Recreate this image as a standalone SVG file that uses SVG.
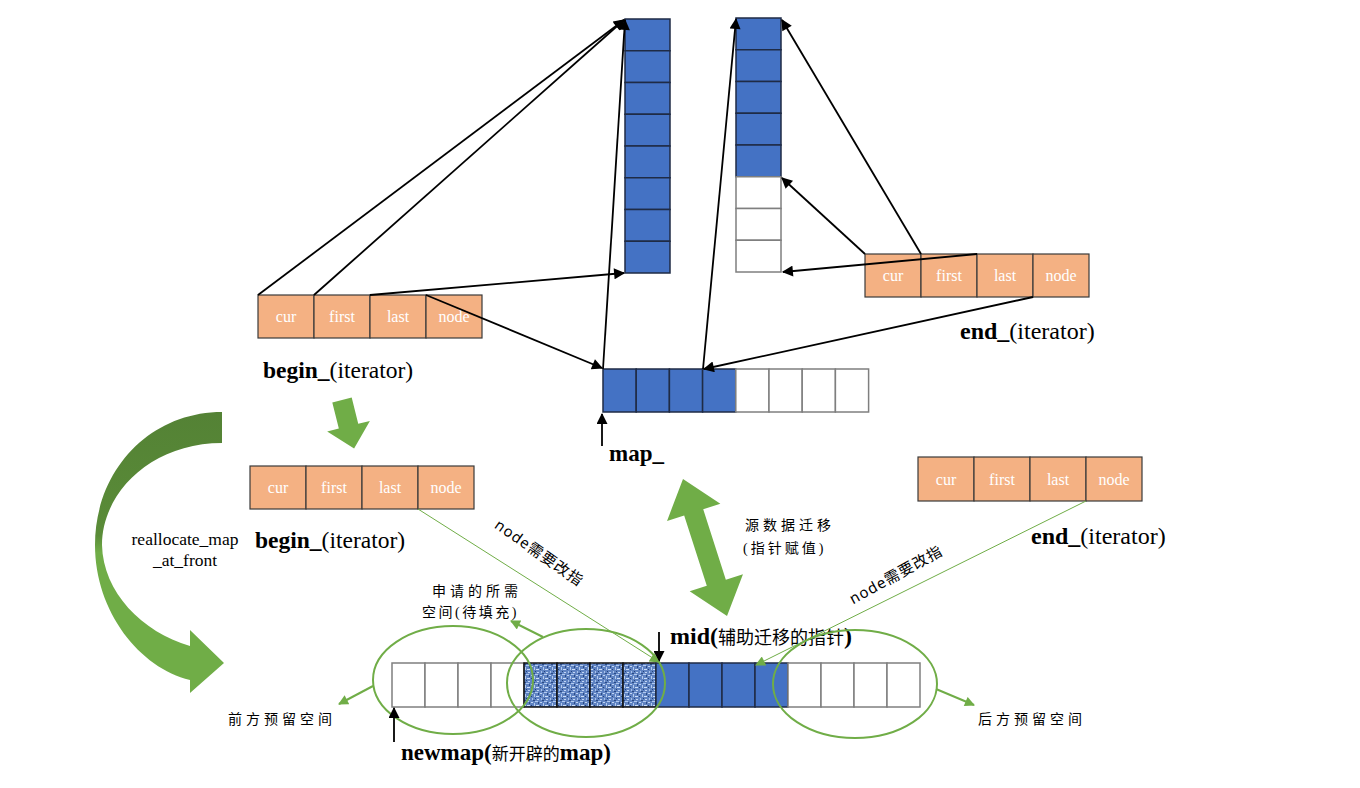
<svg xmlns="http://www.w3.org/2000/svg" width="1360" height="788" viewBox="0 0 1360 788">
<style>
.bg{fill:#ffffff}
.ora{fill:#F4B183;stroke:#3a3a3a;stroke-width:1.2}
.blu{fill:#4472C4;stroke:#1f2b45;stroke-width:1.5}
.wht{fill:#ffffff;stroke:#7f7f7f;stroke-width:1.5}
.tex{fill:url(#noise);stroke:#111;stroke-width:1.5}
.ct{font-family:"Liberation Serif",serif;font-size:16px;fill:#ffffff;text-anchor:middle}
.lb{font-family:"Liberation Serif",serif;font-size:24px;fill:#000}
.b{font-weight:bold}
.cn{font-family:"Liberation Serif","Noto Sans CJK SC",serif;font-size:14px;fill:#000;letter-spacing:4px}
.cn2{font-family:"Noto Sans CJK SC",sans-serif;font-size:18px;font-weight:normal}
.blk{stroke:#000;stroke-width:1.8;fill:none;marker-end:url(#ah)}
.gl{stroke:#70AD47;stroke-width:1;fill:none;marker-end:url(#gh)}
.gl2{stroke:#70AD47;stroke-width:2;fill:none;marker-end:url(#gh2)}
.ell{fill:none;stroke:#70AD47;stroke-width:2}
.garrow{fill:#70AD47}
.rot{font-family:"Noto Sans","Noto Sans CJK SC",sans-serif;font-size:15px;fill:#000;letter-spacing:1px;text-anchor:middle}
</style>
<defs>
<marker id="ah" viewBox="0 0 10 10" refX="9" refY="5" markerWidth="13" markerHeight="11" orient="auto" markerUnits="userSpaceOnUse"><path d="M0,0 L10,5 L0,10 z" fill="#000"/></marker>
<marker id="gh" viewBox="0 0 10 10" refX="9" refY="5" markerWidth="12" markerHeight="10" orient="auto" markerUnits="userSpaceOnUse"><path d="M0,0 L10,5 L0,10 z" fill="#70AD47"/></marker>
<marker id="gh2" viewBox="0 0 10 10" refX="9" refY="5" markerWidth="11" markerHeight="10" orient="auto" markerUnits="userSpaceOnUse"><path d="M0,0 L10,5 L0,10 z" fill="#70AD47"/></marker>
<pattern id="noise" width="9" height="9" patternUnits="userSpaceOnUse">
<rect width="9" height="9" fill="#5f83c2"/>
<rect x="0" y="0" width="2" height="1" fill="#c2d6f4"/>
<rect x="3" y="1" width="1" height="3" fill="#b3cbef"/>
<rect x="5" y="3" width="3" height="1" fill="#cfe0f8"/>
<rect x="1" y="5" width="1" height="2" fill="#a8c2ea"/>
<rect x="6" y="6" width="2" height="1" fill="#c2d6f4"/>
<rect x="4" y="8" width="3" height="1" fill="#b3cbef"/>
<rect x="2" y="7" width="2" height="1" fill="#2a4a84"/>
<rect x="7" y="0" width="1" height="2" fill="#2a4a84"/>
<rect x="4" y="5" width="1" height="1" fill="#23427a"/>
<rect x="0" y="3" width="1" height="1" fill="#23427a"/>
</pattern>
<linearGradient id="cg" gradientUnits="userSpaceOnUse" x1="0" y1="412" x2="0" y2="693">
<stop offset="0" stop-color="#548235"/>
<stop offset="0.44" stop-color="#5a8c38"/>
<stop offset="0.5" stop-color="#70AD47"/>
<stop offset="1" stop-color="#70AD47"/>
</linearGradient>
</defs>
<rect class="bg" x="0" y="0" width="1360" height="788"/>

<g id="col-left">
<rect class="blu" x="625" y="19" width="45" height="31.75"/>
<rect class="blu" x="625" y="50.75" width="45" height="31.75"/>
<rect class="blu" x="625" y="82.5" width="45" height="31.75"/>
<rect class="blu" x="625" y="114.25" width="45" height="31.75"/>
<rect class="blu" x="625" y="146" width="45" height="31.75"/>
<rect class="blu" x="625" y="177.75" width="45" height="31.75"/>
<rect class="blu" x="625" y="209.5" width="45" height="31.75"/>
<rect class="blu" x="625" y="241.25" width="45" height="31.75"/>
</g>
<g id="col-right">
<rect class="blu" x="736" y="18" width="45" height="31.75"/>
<rect class="blu" x="736" y="49.75" width="45" height="31.75"/>
<rect class="blu" x="736" y="81.5" width="45" height="31.75"/>
<rect class="blu" x="736" y="113.25" width="45" height="31.75"/>
<rect class="blu" x="736" y="145" width="45" height="31.75"/>
<rect class="wht" x="736" y="176.75" width="45" height="31.75"/>
<rect class="wht" x="736" y="208.5" width="45" height="31.75"/>
<rect class="wht" x="736" y="240.25" width="45" height="31.75"/>
</g>

<g id="begin-top">
<rect class="ora" x="258" y="295" width="56" height="43"/>
<rect class="ora" x="314" y="295" width="56" height="43"/>
<rect class="ora" x="370" y="295" width="56" height="43"/>
<rect class="ora" x="426" y="295" width="56" height="43"/>
<text class="ct" x="286" y="322">cur</text>
<text class="ct" x="342" y="322">first</text>
<text class="ct" x="398" y="322">last</text>
<text class="ct" x="454" y="322">node</text>
<text class="lb" x="263" y="378" style="font-size:23.5px"><tspan class="b">begin_</tspan>(iterator)</text>
</g>

<g id="end-top">
<rect class="ora" x="865" y="254" width="56" height="43"/>
<rect class="ora" x="921" y="254" width="56" height="43"/>
<rect class="ora" x="977" y="254" width="56" height="43"/>
<rect class="ora" x="1033" y="254" width="56" height="43"/>
<text class="ct" x="893" y="281">cur</text>
<text class="ct" x="949" y="281">first</text>
<text class="ct" x="1005" y="281">last</text>
<text class="ct" x="1061" y="281">node</text>
<text class="lb" x="960" y="339"><tspan class="b">end_</tspan>(iterator)</text>
</g>

<g id="map">
<rect class="blu" x="603" y="369" width="33.2" height="43"/>
<rect class="blu" x="636.2" y="369" width="33.2" height="43"/>
<rect class="blu" x="669.4" y="369" width="33.2" height="43"/>
<rect class="blu" x="702.6" y="369" width="33.2" height="43"/>
<rect class="wht" x="735.8" y="369" width="33.2" height="43"/>
<rect class="wht" x="769" y="369" width="33.2" height="43"/>
<rect class="wht" x="802.2" y="369" width="33.2" height="43"/>
<rect class="wht" x="835.4" y="369" width="33.2" height="43"/>
<text class="lb b" x="609" y="461" style="font-size:23px">map_</text>
</g>

<g id="begin-low">
<rect class="ora" x="250" y="466" width="56" height="43"/>
<rect class="ora" x="306" y="466" width="56" height="43"/>
<rect class="ora" x="362" y="466" width="56" height="43"/>
<rect class="ora" x="418" y="466" width="56" height="43"/>
<text class="ct" x="278" y="493">cur</text>
<text class="ct" x="334" y="493">first</text>
<text class="ct" x="390" y="493">last</text>
<text class="ct" x="446" y="493">node</text>
<text class="lb" x="255" y="548" style="font-size:23.5px"><tspan class="b">begin_</tspan>(iterator)</text>
</g>

<g id="end-low">
<rect class="ora" x="918" y="457" width="56" height="44"/>
<rect class="ora" x="974" y="457" width="56" height="44"/>
<rect class="ora" x="1030" y="457" width="56" height="44"/>
<rect class="ora" x="1086" y="457" width="56" height="44"/>
<text class="ct" x="946" y="485">cur</text>
<text class="ct" x="1002" y="485">first</text>
<text class="ct" x="1058" y="485">last</text>
<text class="ct" x="1114" y="485">node</text>
<text class="lb" x="1031" y="544"><tspan class="b">end_</tspan>(iterator)</text>
</g>

<g id="newmap">
<rect class="wht" x="392" y="663" width="33" height="44"/>
<rect class="wht" x="425" y="663" width="33" height="44"/>
<rect class="wht" x="458" y="663" width="33" height="44"/>
<rect class="wht" x="491" y="663" width="33" height="44"/>
<rect class="tex" x="524" y="663" width="33" height="44"/>
<rect class="tex" x="557" y="663" width="33" height="44"/>
<rect class="tex" x="590" y="663" width="33" height="44"/>
<rect class="tex" x="623" y="663" width="33" height="44"/>
<rect class="blu" x="656" y="663" width="33" height="44"/>
<rect class="blu" x="689" y="663" width="33" height="44"/>
<rect class="blu" x="722" y="663" width="33" height="44"/>
<rect class="blu" x="755" y="663" width="33" height="44"/>
<rect class="wht" x="788" y="663" width="33" height="44"/>
<rect class="wht" x="821" y="663" width="33" height="44"/>
<rect class="wht" x="854" y="663" width="33" height="44"/>
<rect class="wht" x="887" y="663" width="33" height="44"/>
<text class="lb b" x="401" y="760" style="font-size:23px">newmap(<tspan class="cn2" style="font-size:17px">新开辟的</tspan>map)</text>
<text class="lb b" x="670" y="644">mid(<tspan class="cn2">辅助迁移的指针</tspan>)</text>
</g>

<g id="ellipses">
<ellipse class="ell" cx="453" cy="680" rx="80" ry="54"/>
<ellipse class="ell" cx="586" cy="683" rx="79" ry="54"/>
<ellipse class="ell" cx="855" cy="684" rx="82" ry="54"/>
</g>

<g id="big-arrows">
<path fill="url(#cg)" d="M222,412 C150,412 95,470 95,545 C95,612 140,668 190,680 L190,693 L224,663 L190,630 L190,646 C142,632 103,592 102,545 C102,492 152,443 222,443 Z"/>
<polygon class="garrow" transform="translate(342,400) rotate(76)" points="0,-10 27,-10 27,-22 50,0 27,22 27,10 0,10"/>
<polygon class="garrow" transform="translate(683,479) rotate(72.2)" points="0,0 35,-28 35,-10 109,-10 109,-28 144,0 109,28 109,10 35,10 35,28"/>
</g>

<g id="connectors">
<line class="blk" x1="258" y1="295" x2="624" y2="20"/>
<line class="blk" x1="314" y1="295" x2="624" y2="20"/>
<line class="blk" x1="370" y1="295" x2="624" y2="273"/>
<line class="blk" x1="426" y1="295" x2="602" y2="368"/>
<line class="blk" x1="603" y1="369" x2="625" y2="20"/>
<line class="blk" x1="703" y1="369" x2="736" y2="19"/>
<line class="blk" x1="1033" y1="297" x2="704" y2="369"/>
<line class="blk" x1="865" y1="254" x2="782" y2="178"/>
<line class="blk" x1="921" y1="254" x2="782" y2="20"/>
<line class="blk" x1="977" y1="254" x2="783" y2="272"/>
<line class="blk" x1="602" y1="446" x2="602" y2="414"/>
<line class="blk" x1="394" y1="742" x2="394" y2="708"/>
<line class="blk" x1="659" y1="632" x2="659" y2="661"/>
<line class="gl" x1="418" y1="509" x2="659" y2="662"/>
<line class="gl" x1="1086" y1="501" x2="756" y2="665"/>
<line class="gl2" x1="373" y1="686" x2="339" y2="704"/>
<line class="gl2" x1="543" y1="637" x2="511" y2="621"/>
<line class="gl2" x1="936" y1="689" x2="974" y2="705"/>
</g>

<g id="labels">
<text font-family="Liberation Serif,serif" font-size="17.5" x="185" y="545" text-anchor="middle">reallocate_map</text>
<text font-family="Liberation Serif,serif" font-size="17.5" x="185" y="566" text-anchor="middle">_at_front</text>
<text class="cn" x="745" y="530">源数据迁移</text>
<text class="cn" x="743" y="553" style="letter-spacing:3px">(指针赋值)</text>
<text class="cn" x="432" y="596">申请的所需</text>
<text class="cn" x="422" y="617" style="letter-spacing:2.5px">空间(待填充)</text>
<text class="cn" x="228" y="724">前方预留空间</text>
<text class="cn" x="978" y="724">后方预留空间</text>
<text class="rot" transform="translate(539,553) rotate(35)" y="5">node需要改指</text>
<text class="rot" transform="translate(896,575) rotate(-29)" y="5">node需要改指</text>
</g>
</svg>
